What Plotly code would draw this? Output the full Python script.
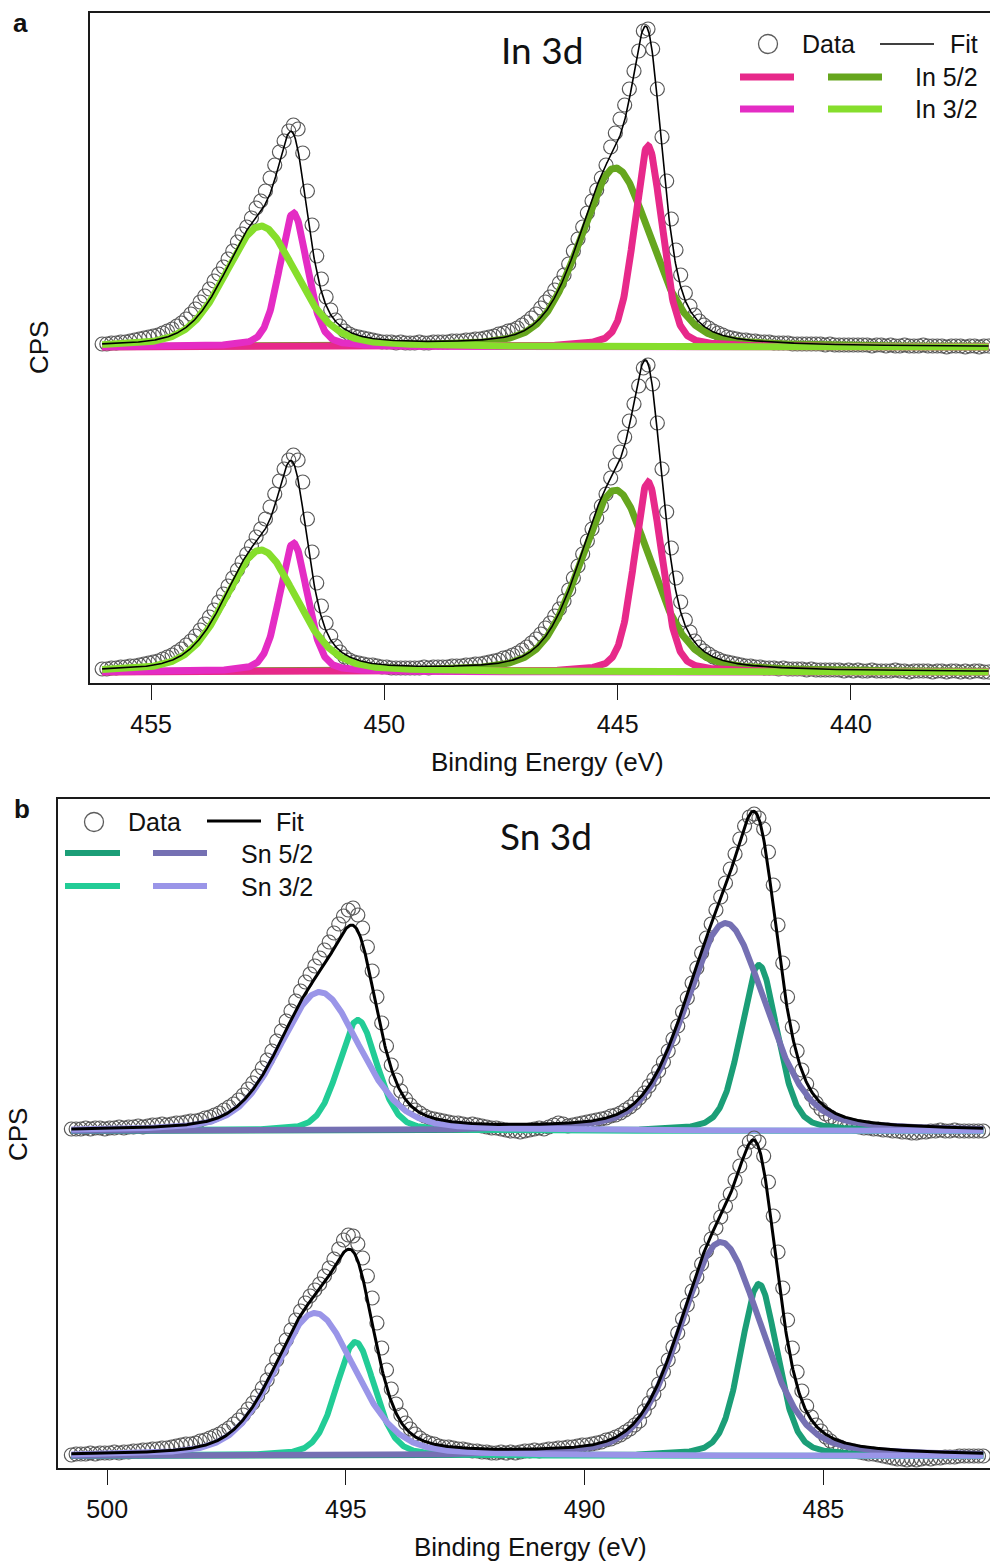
import numpy as np
import plotly.graph_objects as go

W, H = 990, 1566

# ---------------------------------------------------------------------------
# Measured spectra: intensity above background (arbitrary CPS units),
# sampled every 0.1 eV starting from the high binding-energy end.
# ---------------------------------------------------------------------------
BE_STEP = 0.1
IN3D_BE_START = 456.05
SN3D_BE_START = 500.75

IN3D_UPPER = [
    3, 3, 4, 4, 5, 5, 6, 7, 8, 9,
    10, 11, 12, 14, 16, 18, 21, 24, 28, 33,
    38, 45, 51, 58, 66, 73, 80, 88, 96, 105,
    113, 120, 129, 139, 146, 156, 169, 182, 195, 206,
    216, 222, 218, 194, 156, 122, 91, 68, 50, 37,
    27, 21, 16, 13, 11, 10, 9, 8, 7, 6,
    5, 5, 5, 4, 5, 4, 4, 4, 5, 4,
    4, 5, 5, 5, 5, 6, 6, 6, 7, 7,
    8, 8, 9, 10, 11, 13, 14, 16, 17, 19,
    22, 25, 29, 33, 39, 45, 50, 57, 64, 72,
    83, 96, 108, 120, 134, 146, 157, 169, 182, 200,
    214, 228, 242, 258, 276, 296, 316, 318, 298, 258,
    210, 166, 128, 97, 72, 54, 41, 32, 26, 22,
    19, 16, 14, 12, 10, 9, 8, 7, 7, 6,
    6, 5, 5, 5, 4, 4, 4, 4, 3, 3,
    3, 3, 3, 3, 3, 2, 3, 2, 2, 2,
    2,
    2, 2, 2, 2, 1, 2, 2, 1, 2, 1, 1, 2, 1, 1, 1,
    2, 1, 1, 1, 1, 0, 1, 1, 1, 0, 1, 1, 0, 1, 1,
]

IN3D_LOWER = [
    3, 3, 4, 4, 5, 5, 6, 6, 7, 8,
    9, 10, 11, 13, 15, 17, 20, 23, 27, 31,
    36, 42, 48, 55, 62, 70, 78, 86, 94, 102,
    110, 118, 126, 135, 143, 153, 165, 178, 191, 203,
    212, 217, 212, 190, 153, 120, 89, 66, 49, 36,
    26, 20, 15, 12, 10, 9, 8, 7, 7, 6,
    5, 5, 4, 4, 4, 4, 4, 4, 4, 5,
    4, 5, 5, 5, 5, 6, 6, 6, 7, 7,
    8, 8, 9, 10, 11, 12, 14, 15, 17, 19,
    22, 25, 29, 33, 38, 44, 49, 56, 63, 71,
    82, 94, 106, 118, 131, 143, 154, 166, 178, 194,
    207, 220, 235, 251, 268, 286, 304, 307, 288, 249,
    203, 160, 124, 94, 70, 52, 40, 31, 25, 21,
    18, 15, 13, 11, 10, 9, 8, 7, 6, 6,
    5, 5, 4, 4, 4, 3, 4, 3, 3, 3,
    3, 2, 3, 2, 2, 2, 2, 2, 2, 1,
    2,
    1, 2, 1, 1, 2, 1, 1, 1, 1, 2, 1, 1, 0, 1, 1,
    1, 1, 0, 1, 1, 0, 1, 1, 0, 1, 0, 1, 1, 0, 0,
]

SN3D_UPPER = [
    2, 2, 2, 3, 2, 3, 3, 2, 3, 3,
    4, 3, 4, 4, 5, 4, 5, 6, 6, 7,
    6, 7, 8, 8, 9, 10, 10, 11, 13, 14,
    16, 18, 21, 24, 27, 31, 36, 42, 48, 55,
    63, 71, 80, 90, 100, 110, 120, 130, 140, 149,
    157, 165, 173, 181, 189, 198, 207, 215, 221, 223,
    216, 203, 184, 160, 134, 108, 85, 66, 51, 40,
    32, 26, 21, 18, 15, 13, 12, 11, 10, 9,
    8, 8, 7, 6, 7, 6, 5, 4, 3, 3,
    2, 1, 0, 0, -1, 0, 1, 2, 3, 2,
    4, 6, 8, 7, 5, 6, 7, 8, 9, 10,
    11, 12, 13, 15, 16, 18, 21, 24, 28, 33,
    38, 45, 52, 60, 69, 80, 92, 105, 119, 133,
    148, 163, 178, 193, 207, 221, 234, 248, 262, 277,
    292, 305, 314, 317, 313, 302, 279, 246, 206, 168,
    134, 104, 80, 61, 47, 36, 28, 22, 17, 14,
    11, 9, 7, 6, 5, 4, 3, 3, 2, 2,
    1, 1, 0, 0, -1, -1, -2, -2, -1, -1,
    0, 0, 1, 0, 0, 1, 0, 0, 0, 0,
    0, 0,
]

SN3D_LOWER = [
    1, 2, 2, 2, 3, 2, 3, 3, 3, 4,
    3, 4, 4, 5, 5, 6, 6, 7, 7, 8,
    8, 9, 10, 11, 12, 12, 13, 15, 16, 18,
    20, 22, 25, 28, 32, 36, 41, 47, 53, 60,
    68, 76, 86, 96, 106, 116, 126, 136, 145, 153,
    160, 166, 172, 180, 188, 197, 207, 216, 221, 220,
    212, 198, 180, 158, 133, 108, 86, 67, 52, 41,
    33, 27, 22, 18, 15, 13, 12, 10, 9, 9,
    8, 7, 7, 6, 5, 5, 4, 4, 3, 3,
    4, 3, 4, 3, 4, 5, 5, 6, 5, 6,
    7, 7, 8, 8, 9, 9, 10, 11, 11, 12,
    13, 14, 16, 17, 19, 21, 24, 27, 31, 35,
    45, 53, 62, 72, 84, 96, 109, 123, 137, 151,
    165, 179, 192, 205, 217, 228, 239, 250, 262, 276,
    290, 304, 314, 318, 314, 300, 274, 240, 204, 168,
    136, 108, 84, 65, 50, 39, 31, 25, 19, 15,
    11, 9, 7, 6, 5, 4, 3, 2, 2, 1,
    0, -1, -2, -3, -3, -4, -3, -4, -3, -2,
    -3, -2, -2, -1, -1, -1, 0, 0, 0, 0,
    0, 0,
]

STACK_OFFSET = 325  # vertical shift of the upper spectrum in each panel

# ---------------------------------------------------------------------------
# Fitted components (pseudo-Voigt peaks): centre (eV), height, FWHM (eV)
# order: [5/2 narrow, 5/2 broad, 3/2 narrow, 3/2 broad]
# ---------------------------------------------------------------------------
PV_ETA = 0.3

IN_COLORS = ["#E7298A", "#66A61E", "#E42CC4", "#86DE2C"]
IN_CENTERS_UPPER = [444.35, 445.05, 451.95, 452.65]
IN_HEIGHTS_UPPER = [201, 179, 134, 121]
IN_CENTERS_LOWER = [444.35, 445.05, 451.95, 452.65]
IN_HEIGHTS_LOWER = [190, 182, 129, 122]
IN_FWHM = [0.70, 1.80, 0.70, 1.80]
IN_DRAW_ORDER = [1, 0, 2, 3]

SN_COLORS = ["#1B9E77", "#7570B3", "#22CC96", "#9A95E8"]
SN_CENTERS_UPPER = [486.35, 487.05, 494.75, 495.55]
SN_HEIGHTS_UPPER = [166, 208, 111, 139]
SN_CENTERS_LOWER = [486.35, 487.15, 494.80, 495.65]
SN_HEIGHTS_LOWER = [172, 214, 114, 143]
SN_FWHM = [0.90, 2.00, 0.95, 2.00]
SN_DRAW_ORDER = [0, 2, 1, 3]

IN_TICKS = [455, 450, 445, 440]
SN_TICKS = [500, 495, 490, 485]

FONT = "Liberation Sans, Arial, sans-serif"
TITLE_FONT = "Lato, Open Sans, sans-serif"


def pseudo_voigt(e, center, height, fwhm, eta=PV_ETA):
    u = (e - center) / fwhm
    return height * ((1 - eta) * np.exp(-4 * np.log(2) * u ** 2) + eta / (1 + 4 * u ** 2))


def energies(start, n):
    return np.array([round(start - BE_STEP * i, 2) for i in range(n)])


fig = go.Figure()


def add_spectrum(values, be_start, centers, heights, fwhms, colors, order,
                 offset, comp_width, fit_width, xa, ya):
    be = energies(be_start, len(values))
    fig.add_trace(go.Scatter(
        x=be, y=np.array(values) + offset, mode="markers",
        marker=dict(symbol="circle-open", size=14, color="#595959",
                    line=dict(width=1.2)),
        xaxis=xa, yaxis=ya, showlegend=False, hoverinfo="skip"))
    grid = np.linspace(be[0], be[-1], 1400)
    comps = [pseudo_voigt(grid, c, h, w) for c, h, w in zip(centers, heights, fwhms)]
    for k in order:
        fig.add_trace(go.Scatter(
            x=grid, y=comps[k] + offset, mode="lines",
            line=dict(color=colors[k], width=comp_width),
            xaxis=xa, yaxis=ya, showlegend=False, hoverinfo="skip"))
    fig.add_trace(go.Scatter(
        x=grid, y=np.sum(comps, axis=0) + offset, mode="lines",
        line=dict(color="black", width=fit_width),
        xaxis=xa, yaxis=ya, showlegend=False, hoverinfo="skip"))


# panel a: In 3d
add_spectrum(IN3D_UPPER, IN3D_BE_START, IN_CENTERS_UPPER, IN_HEIGHTS_UPPER, IN_FWHM,
             IN_COLORS, IN_DRAW_ORDER, STACK_OFFSET, 7, 1.6, "x", "y")
add_spectrum(IN3D_LOWER, IN3D_BE_START, IN_CENTERS_LOWER, IN_HEIGHTS_LOWER, IN_FWHM,
             IN_COLORS, IN_DRAW_ORDER, 0, 7, 1.6, "x", "y")
# panel b: Sn 3d
add_spectrum(SN3D_UPPER, SN3D_BE_START, SN_CENTERS_UPPER, SN_HEIGHTS_UPPER, SN_FWHM,
             SN_COLORS, SN_DRAW_ORDER, STACK_OFFSET, 6, 3, "x2", "y2")
add_spectrum(SN3D_LOWER, SN3D_BE_START, SN_CENTERS_LOWER, SN_HEIGHTS_LOWER, SN_FWHM,
             SN_COLORS, SN_DRAW_ORDER, 0, 6, 3, "x2", "y2")


def px(x):
    return x / W


def py(y):
    return 1 - y / H


xaxis_common = dict(
    showgrid=False, zeroline=False, showline=True, mirror=True,
    linecolor="#1a1a1a", linewidth=1.5, ticks="outside", ticklen=15,
    tickwidth=1.4, tickcolor="#1a1a1a", ticklabelstandoff=3,
    tickfont=dict(family=FONT, size=25, color="#111111"))
yaxis_common = dict(
    showgrid=False, zeroline=False, showline=True, mirror=False,
    linecolor="#1a1a1a", linewidth=1.5, showticklabels=False, ticks="")

fig.update_layout(
    width=W, height=H, margin=dict(l=0, r=0, t=0, b=0),
    paper_bgcolor="white", plot_bgcolor="white", showlegend=False,
    xaxis=dict(xaxis_common, domain=[px(90), 1], range=[456.31, 437.02],
               tickvals=IN_TICKS, anchor="y"),
    yaxis=dict(yaxis_common, domain=[py(683), py(12.5)], range=[-11, 659.5],
               anchor="x"),
    xaxis2=dict(xaxis_common, domain=[px(58), 1], range=[501.03, 481.51],
                tickvals=SN_TICKS, anchor="y2"),
    yaxis2=dict(yaxis_common, domain=[py(1468), py(799)], range=[-12, 657],
                anchor="x2"),
)

annotations = []


def text(x, y, s, size=25, family=FONT, anchor="center", angle=0):
    annotations.append(dict(
        x=px(x), y=py(y), xref="paper", yref="paper", text=s, showarrow=False,
        xanchor=anchor, yanchor="middle", textangle=angle,
        font=dict(family=family, size=size, color="#111111")))


shapes = []


def key_line(x0, x1, y, color, width):
    shapes.append(dict(type="line", xref="paper", yref="paper",
                       x0=px(x0), x1=px(x1), y0=py(y), y1=py(y),
                       line=dict(color=color, width=width)))


def key_circle(cx, cy, r=9.5):
    shapes.append(dict(type="circle", xref="paper", yref="paper",
                       x0=px(cx - r), x1=px(cx + r), y0=py(cy + r), y1=py(cy - r),
                       line=dict(color="#5c5c5c", width=1.3)))


# panel labels, titles and axis titles
text(20, 23, "<b>a</b>", size=26)
text(22, 809, "<b>b</b>", size=26)
text(542, 49, "In 3d", size=37, family=TITLE_FONT)
text(546, 835, "Sn 3d", size=37, family=TITLE_FONT)
text(547, 762, "Binding Energy (eV)", size=26)
text(530, 1547, "Binding Energy (eV)", size=26)
text(39, 348, "CPS", size=26, angle=-90)
text(18, 1135, "CPS", size=26, angle=-90)

# legend, panel a
key_circle(768, 44)
text(800, 44, "Data", anchor="left")
key_line(880, 934, 44, "black", 1.6)
text(948, 44, "Fit", anchor="left")
key_line(740, 794, 77, IN_COLORS[0], 7)
key_line(828, 882, 77, IN_COLORS[1], 7)
text(913, 77, "In 5/2", anchor="left")
key_line(740, 794, 109, IN_COLORS[2], 7)
key_line(828, 882, 109, IN_COLORS[3], 7)
text(913, 109, "In 3/2", anchor="left")

# legend, panel b
key_circle(94, 822)
text(126, 822, "Data", anchor="left")
key_line(207, 261, 821, "black", 3)
text(274, 822, "Fit", anchor="left")
key_line(65, 120, 853, SN_COLORS[0], 6)
key_line(153, 207, 853, SN_COLORS[1], 6)
text(239, 854, "Sn 5/2", anchor="left")
key_line(65, 120, 886, SN_COLORS[2], 6)
key_line(153, 207, 886, SN_COLORS[3], 6)
text(239, 887, "Sn 3/2", anchor="left")

fig.update_layout(annotations=annotations, shapes=shapes)

fig.write_html("out.html")
